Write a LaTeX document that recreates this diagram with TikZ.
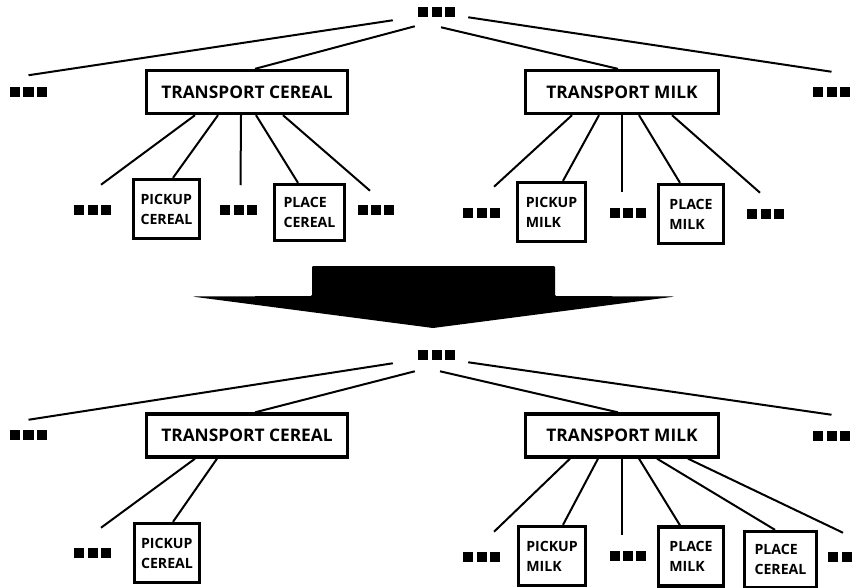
\documentclass[tikz,border=0pt]{standalone}
\usepackage{fontspec}
\setmainfont{Open Sans}
\usetikzlibrary{calc}
% one black square and rows of them for the "more items" markers
\newcommand{\blk}{\rule{7.5pt}{7.5pt}}
\newcommand{\trio}{\blk\hspace{2.6pt}\blk\hspace{2.6pt}\blk}
\newcommand{\duo}{\blk\hspace{2.6pt}\blk}
\begin{document}
\begin{tikzpicture}[x=0.75pt,y=-0.75pt,
  boxsize/.style 2 args={minimum width=#1*0.75pt,minimum height=#2*0.75pt},
  task/.style={draw,line width=2.5pt,inner sep=0pt,
    font=\bfseries\fontsize{13}{15}\selectfont},
  act/.style={draw,line width=2.5pt,inner sep=0pt,align=left,
    font=\bfseries\fontsize{10.6}{15}\selectfont},
  more/.style={inner sep=0pt,font=\fontsize{7.5}{7.5}\selectfont},
  link/.style={line width=1.5pt}]
\fill[white] (0,0) rectangle (855,587);
\useasboundingbox (0,0) rectangle (855,587);

% ---------------- upper tree ----------------
\node[more] (top) at (436.5,11.5) {\trio};
\node[more] (tl) at (28.5,91.5) {\trio};
\node[more] (tr) at (831.5,92) {\trio};
\node[task,boxsize={201}{43}] (tc) at (247,92) {TRANSPORT CEREAL};
\node[task,boxsize={193}{43}] (tm) at (622,92) {TRANSPORT MILK};

\node[act,boxsize={66}{59}] (pc) at (166.5,209) {PICKUP\\CEREAL};
\node[act,boxsize={70}{56}] (plc) at (309.5,212.5) {PLACE\\CEREAL};
\node[more] (c1) at (92.5,209.5) {\trio};
\node[more] (c2) at (238.5,209.5) {\trio};
\node[more] (c3) at (376,209.5) {\trio};

\node[act,boxsize={68}{59}] (pm) at (551.5,212) {PICKUP\\MILK};
\node[act,boxsize={65}{59}] (plm) at (691,214) {PLACE\\MILK};
\node[more] (m1) at (481.5,213) {\trio};
\node[more] (m2) at (628,212.5) {\trio};
\node[more] (m3) at (765.5,214) {\trio};

\coordinate (tlend) at ($(tl.north)+(0,-11)$);
\coordinate (trend) at ($(tr.north)+(0,-15)$);
\draw[link] ($(top.south west)+(-25,3.5)$) -- (tlend);
\draw[link] ($(top.south west)+(-3,9.5)$) -- ($(tc.north)+(8,0)$);
\draw[link] ($(top.south)+(4.5,10.5)$) -- ($(tm.north)+(-4,0)$);
\draw[link] ($(top.south east)+(13,0.5)$) -- (trend);

\coordinate (c1end) at ($(c1.north)+(8.5,-19.5)$);
\coordinate (c2end) at ($(c2.north)+(2,-19)$);
\coordinate (c3end) at ($(c3.north)+(-6,-13.5)$);
\draw[link] ($(tc.south)+(-52,0)$) -- (c1end);
\draw[link] ($(tc.south)+(-29,0)$) -- ($(pc.north)+(6.5,0)$);
\draw[link] ($(tc.south)+(-6,0)$) -- (c2end);
\draw[link] ($(tc.south)+(9,0)$) -- ($(plc.north)+(-11.5,0)$);
\draw[link] ($(tc.south)+(36,0)$) -- (c3end);

\coordinate (m1end) at ($(m1.north)+(12.5,-21)$);
\coordinate (m2end) at ($(m2.north)+(-6,-15.5)$);
\coordinate (m3end) at ($(m3.north)+(-5.5,-16)$);
\draw[link] ($(tm.south)+(-50,0)$) -- (m1end);
\draw[link] ($(tm.south)+(-23,0)$) -- ($(pm.north)+(11.5,0)$);
\draw[link] ($(tm.south)+(0,0)$) -- (m2end);
\draw[link] ($(tm.south)+(17,0)$) -- ($(plm.north)+(-11,0)$);
\draw[link] ($(tm.south)+(50,0)$) -- (m3end);

% ---------------- block arrow ----------------
\fill[black,rounded corners=0.8pt] (312,266) -- (555,266) -- (555,296) -- (675,296.5)
  -- (433,328) -- (192,296.5) -- (312,296) -- cycle;

% ---------------- lower tree ----------------
\node[more] (btop) at (436.5,355) {\trio};
\node[more] (bl) at (28.5,435) {\trio};
\node[more] (br) at (831.5,435.5) {\trio};
\node[task,boxsize={201}{43}] (btc) at (247,435.5) {TRANSPORT CEREAL};
\node[task,boxsize={193}{43}] (btm) at (622,435.5) {TRANSPORT MILK};

\node[act,boxsize={65}{59}] (bpc) at (167,553) {PICKUP\\CEREAL};
\node[more] (bc1) at (92.5,553) {\trio};

\node[act,boxsize={67}{59}] (bpm) at (552,556) {PICKUP\\MILK};
\node[act,boxsize={65}{59}] (bplm) at (691,556.5) {PLACE\\MILK};
\node[act,boxsize={72}{56}] (bplc) at (780.5,559.5) {PLACE\\CEREAL};
\node[more] (bm1) at (481.5,556.5) {\trio};
\node[more] (bm2) at (628,556) {\trio};
\node[more] (bm3) at (840,557) {\duo};

\coordinate (blend) at ($(bl.north)+(0,-10)$);
\coordinate (brend) at ($(br.north)+(0,-15.5)$);
\draw[link] ($(btop.south west)+(-25,3)$) -- (blend);
\draw[link] ($(btop.south west)+(-3,11)$) -- ($(btc.north)+(8,0)$);
\draw[link] ($(btop.south)+(3.5,11)$) -- ($(btm.north)+(-4,0)$);
\draw[link] ($(btop.south east)+(13,2)$) -- (brend);

\coordinate (bc1end) at ($(bc1.north)+(8.5,-20)$);
\draw[link] ($(btc.south)+(-52,0)$) -- (bc1end);
\draw[link] ($(btc.south)+(-30,0)$) -- ($(bpc.north)+(6,0)$);

\coordinate (bm1end) at ($(bm1.north)+(12.5,-19.5)$);
\coordinate (bm2end) at ($(bm2.north)+(-6,-16)$);
\coordinate (bm3end) at ($(bm3.north)+(3,-19)$);
\draw[link] ($(btm.south)+(-52,0)$) -- (bm1end);
\draw[link] ($(btm.south)+(-24,0)$) -- ($(bpm.north)+(11,0)$);
\draw[link] ($(btm.south)+(0,0)$) -- (bm2end);
\draw[link] ($(btm.south)+(17,0)$) -- ($(bplm.north)+(-11,0)$);
\draw[link] ($(btm.south)+(35,0)$) -- ($(bplc.north)+(-5.5,0)$);
\draw[link] ($(btm.south)+(66,0)$) -- (bm3end);
\end{tikzpicture}
\end{document}
